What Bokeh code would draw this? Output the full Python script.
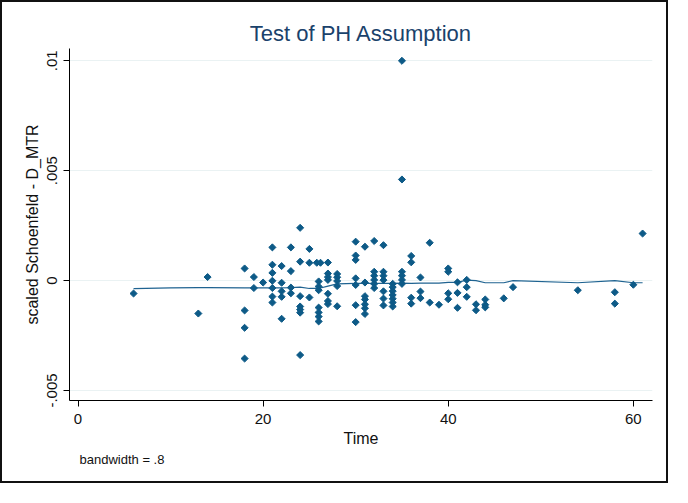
from bokeh.plotting import figure
from bokeh.models import FixedTicker, Title, Range1d
from bokeh.embed import file_html
from bokeh.resources import INLINE

# ---- data ----
time = [6, 13, 14,
        18, 18, 18, 18,
        19, 19,
        20,
        21, 21, 21, 21, 21, 21, 21,
        22, 22, 22, 22, 22,
        23, 23, 23, 23,
        24, 24, 24, 24, 24, 24, 24,
        25, 25, 25,
        25.8, 26.2,
        26, 26, 26, 26, 26, 26, 26,
        27, 27, 27, 27, 27, 27, 27,
        28, 28, 28, 28, 28,
        30, 30, 30, 30, 30, 30, 30,
        31, 31, 31, 31, 31, 31, 31,
        32, 32, 32, 32, 32, 32,
        33, 33, 33, 33, 33, 33, 33,
        34, 34, 34, 34, 34, 34, 34,
        35, 35, 35, 35, 35, 35,
        36, 36, 36, 36,
        37, 37, 37,
        38, 38,
        39,
        40, 40, 40, 40,
        41, 41, 41,
        42, 42, 42,
        43, 43,
        44, 44, 44,
        46, 47, 54, 58, 58, 60, 61]

schoenfeld = [-0.00059, -0.0015, 0.00016,
              0.00055, -0.00136, -0.00215, -0.00355,
              0.00016, -0.00034,
              -0.00009,
              0.00151, 0.00072, 0.00035, -0.00001, -0.00034, -0.00073, -0.001,
              0.00066, -0.0001, -0.00049, -0.00074, -0.00174,
              0.00151, 0.00043, -0.00032, -0.00058,
              0.0024, 0.00086, -0.00071, -0.00118, -0.00132, -0.00146, -0.00339,
              0.00144, 0.00081, -0.00077,
              0.00081, 0.00081,
              -0.00004, -0.00027, -0.00044, -0.00123, -0.00145, -0.00164, -0.00186,
              0.00082, 0.00032, 0.00016, 0.00003, -0.0006, -0.00093, -0.00107,
              0.0003, 0.00015, -0.00002, -0.00025, -0.00117,
              0.00177, 0.00114, 0.00094, 0.0001, -0.0002, -0.00112, -0.00189,
              0.00154, -0.00009, -0.00071, -0.00086, -0.00108, -0.00126, -0.00152,
              0.0018, 0.0004, 0.00022, 0.00003, -0.00015, -0.00034,
              0.00161, 0.0004, 0.00022, 0.00002, -0.00049, -0.00082, -0.00113,
              -0.00015, -0.0003, -0.00048, -0.00066, -0.00083, -0.001, -0.00118,
              0.01, 0.0046, 0.0004, 0.00022, 0.00003, -0.00015,
              0.00112, 0.00083, -0.00078, -0.00105,
              0.00014, -0.0005, -0.0008,
              0.00172, -0.001,
              -0.0011,
              0.00055, 0.0004, -0.00058, -0.00085,
              -0.00008, -0.00056, -0.00124,
              0.00003, -0.0003, -0.00074,
              -0.00108, -0.00135,
              -0.00086, -0.0011, -0.00122,
              -0.00081, -0.0003, -0.00044, -0.00053, -0.00105, -0.00019, 0.00214]

smooth_time = [6, 10, 13, 14, 18, 19, 20, 21, 22, 23, 24, 25, 26, 27, 28,
               30, 31, 32, 33, 34, 35, 36, 37, 38, 39, 40, 41, 42, 43, 44,
               46, 47, 54, 58, 60, 61]
smooth_vals = [-0.00037, -0.00033, -0.00032, -0.00032, -0.00033, -0.00033,
               -0.00033, -0.00033, -0.00033, -0.00032, -0.0003, -0.00036,
               -0.00036, -0.00025, -0.00015, -0.00013, -0.00013, -0.00013,
               -0.00013, -0.00013, -0.00012, -0.00013, -0.00012, -0.00012,
               -0.00012, -0.00008, -0.00008, 0.00002, 0.0, -0.0001,
               -0.0001, 0.0, -0.0001, 0.0, -0.0001, -0.0001]

x_ticks = [0, 20, 40, 60]
y_ticks = [-0.005, 0, 0.005, 0.01]
y_tick_labels = ["-.005", "0", ".005", ".01"]

FONT = "Liberation Sans"
MARK = "#0d5a87"

p = figure(width=668, height=483, output_backend="svg", toolbar_location=None,
           x_range=Range1d(-0.92, 62.07), y_range=Range1d(-0.005458, 0.01056),
           min_border_left=67, min_border_right=18, min_border_top=46,
           min_border_bottom=85)
p.styles = {"border": "2px solid #111"}
p.background_fill_color = "white"
p.border_fill_color = "white"
p.outline_line_color = None

p.title.text = "Test of PH Assumption"
p.title.align = "center"
p.title.text_font = FONT
p.title.text_font_size = "22px"
p.title.text_font_style = "normal"
p.title.text_color = "#1a426b"
p.title.standoff = 6

p.xgrid.grid_line_color = None
p.ygrid.grid_line_color = "#eaf2f3"
p.ygrid.grid_line_width = 1

p.xaxis.ticker = FixedTicker(ticks=x_ticks)
p.yaxis.ticker = FixedTicker(ticks=y_ticks)
p.yaxis.major_label_overrides = dict(zip(y_ticks, y_tick_labels))
p.yaxis.major_label_orientation = "vertical"

for ax in (p.xaxis[0], p.yaxis[0]):
    ax.axis_line_color = "#000"
    ax.major_tick_line_color = "#000"
    ax.major_tick_out = 6
    ax.major_tick_in = 0
    ax.minor_tick_line_color = None
    ax.major_label_text_font = FONT
    ax.major_label_text_font_size = "15px"
    ax.major_label_text_color = "#111"
    ax.axis_label_text_font = FONT
    ax.axis_label_text_font_size = "16px"
    ax.axis_label_text_font_style = "normal"
    ax.axis_label_text_color = "#111"

p.xaxis.axis_label = "Time"
p.yaxis.axis_label = "scaled Schoenfeld - D_MTR"
p.xaxis.major_label_standoff = 7
p.xaxis.axis_label_standoff = 3
p.yaxis.major_label_standoff = 6
p.yaxis.axis_label_standoff = 4

p.line(smooth_time, smooth_vals, line_color="#1f6391", line_width=1.2)
p.scatter(time, schoenfeld, marker="square", angle=0.785398, size=5,
          fill_color=MARK, line_color=MARK)

note = Title(text="bandwidth = .8", align="left", offset=10,
             text_font=FONT, text_font_size="13px", text_font_style="normal",
             text_color="#111", standoff=0)
p.add_layout(note, "below")

open("out.html", "w").write(file_html(p, INLINE))
